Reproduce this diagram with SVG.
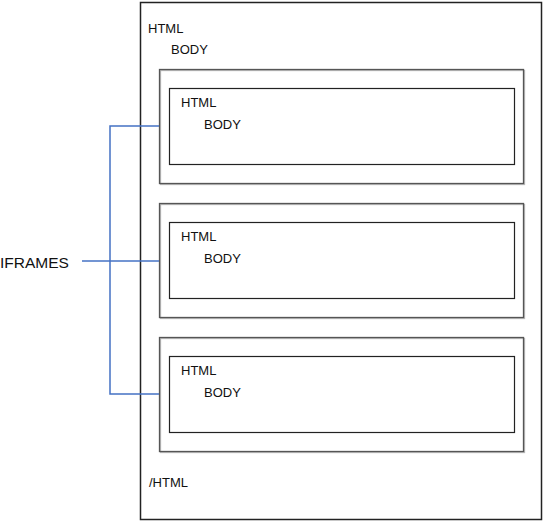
<svg xmlns="http://www.w3.org/2000/svg" width="544" height="521" viewBox="0 0 544 521">
<style>
.t{font-family:"Liberation Sans",Arial,sans-serif;font-size:13px;fill:#111}
.frame{fill:none;stroke:#555;stroke-width:1.3}
.shadow{fill:none;stroke:#bbb;stroke-width:1.3}
.inner{fill:none;stroke:#222;stroke-width:1.2}
.conn{fill:none;stroke:#4472C4;stroke-width:1.5}
</style>
<rect width="544" height="521" fill="#fff"/>
<g id="page">
<rect x="140.5" y="2.5" width="401" height="517" fill="none" stroke="#222" stroke-width="1.5"/>
<text class="t" x="148" y="33">HTML</text>
<text class="t" x="171" y="54">BODY</text>
<text class="t" x="149" y="487">/HTML</text>
</g>
<g id="iframe1">
<rect class="shadow" x="160.5" y="70.5" width="364" height="114"/>
<rect class="frame" x="159.5" y="69.5" width="364" height="114"/>
<rect class="inner" x="169.5" y="88.5" width="345" height="76"/>
<text class="t" x="181" y="107">HTML</text>
<text class="t" x="204" y="129">BODY</text>
</g>
<g id="iframe2">
<rect class="shadow" x="160.5" y="204.5" width="364" height="114"/>
<rect class="frame" x="159.5" y="203.5" width="364" height="114"/>
<rect class="inner" x="169.5" y="222.5" width="345" height="76"/>
<text class="t" x="181" y="241">HTML</text>
<text class="t" x="204" y="263">BODY</text>
</g>
<g id="iframe3">
<rect class="shadow" x="160.5" y="338.5" width="364" height="114"/>
<rect class="frame" x="159.5" y="337.5" width="364" height="114"/>
<rect class="inner" x="169.5" y="356.5" width="345" height="76"/>
<text class="t" x="181" y="375">HTML</text>
<text class="t" x="204" y="397">BODY</text>
</g>
<g id="label">
<text x="0" y="268" font-family="Liberation Sans,Arial,sans-serif" font-size="15.5" fill="#111">IFRAMES</text>
</g>
<g id="connectors">
<path class="conn" d="M159 126 H110 V394 H159"/>
<path class="conn" d="M82 261 H159"/>
</g>
</svg>
